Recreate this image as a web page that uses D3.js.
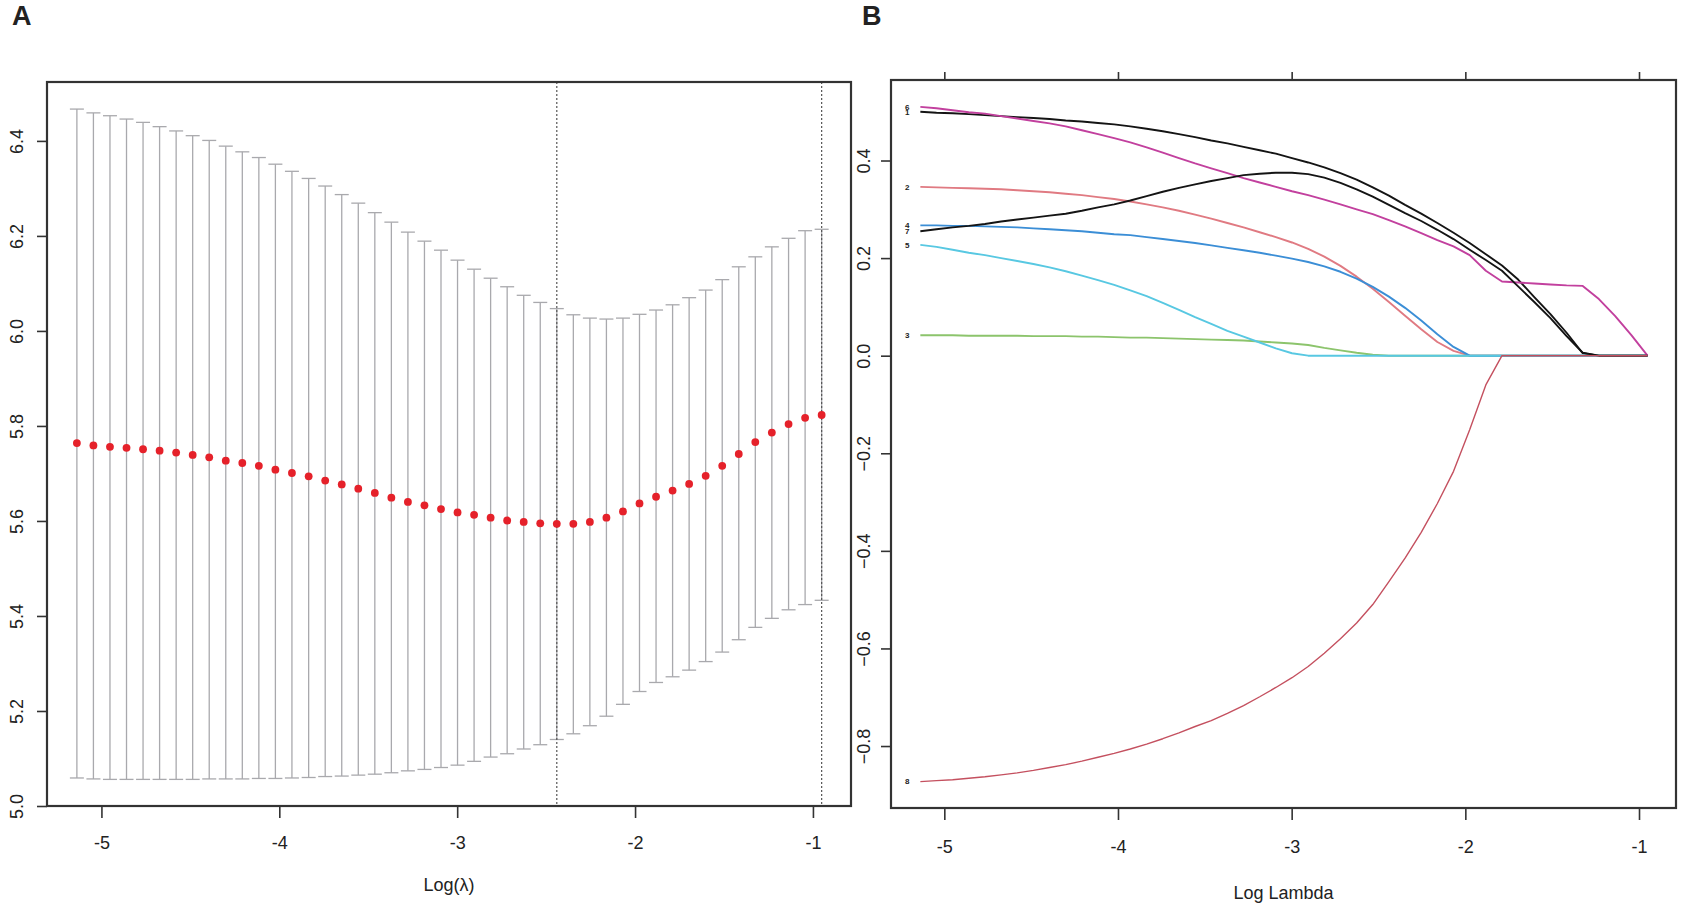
<!DOCTYPE html>
<html>
<head>
<meta charset="utf-8">
<script src="https://cdn.jsdelivr.net/npm/d3@7"></script>
<style>
    body { margin: 0; background: #fff; }
    svg text { font-family: "Liberation Sans", Arial, sans-serif; fill: #222; }
</style>
</head>
<body>
<svg id="chart" width="1689" height="907"></svg>
<script>
"use strict";

// log(lambda) sequence shared by both panels
var logLambda = [-5.138, -5.045, -4.952, -4.859, -4.766, -4.673, -4.580, -4.487, -4.394, -4.301,
    -4.208, -4.115, -4.022, -3.929, -3.835, -3.742, -3.649, -3.556, -3.463, -3.370,
    -3.277, -3.184, -3.091, -2.998, -2.905, -2.812, -2.719, -2.626, -2.533, -2.440,
    -2.347, -2.254, -2.161, -2.068, -1.975, -1.882, -1.789, -1.696, -1.603, -1.510,
    -1.417, -1.324, -1.231, -1.137, -1.044, -0.951];

// panel A: cross-validation curve
var cvMean = [5.764, 5.759, 5.756, 5.754, 5.751, 5.748, 5.744, 5.739, 5.734, 5.727,
    5.722, 5.716, 5.708, 5.701, 5.694, 5.685, 5.677, 5.668, 5.659, 5.649,
    5.640, 5.633, 5.625, 5.618, 5.613, 5.607, 5.601, 5.598, 5.595, 5.594,
    5.594, 5.598, 5.607, 5.620, 5.637, 5.651, 5.664, 5.678, 5.695, 5.716,
    5.741, 5.766, 5.786, 5.804, 5.817, 5.823];
var cvUpper = [6.467, 6.459, 6.453, 6.446, 6.439, 6.430, 6.421, 6.411, 6.401, 6.389,
    6.377, 6.365, 6.351, 6.336, 6.321, 6.305, 6.287, 6.269, 6.249, 6.229,
    6.208, 6.189, 6.170, 6.149, 6.130, 6.111, 6.093, 6.075, 6.060, 6.047,
    6.034, 6.027, 6.025, 6.027, 6.035, 6.044, 6.055, 6.070, 6.086, 6.108,
    6.135, 6.156, 6.177, 6.195, 6.211, 6.214];
var cvLower = [5.059, 5.057, 5.056, 5.056, 5.056, 5.056, 5.056, 5.056, 5.057, 5.057,
    5.057, 5.058, 5.058, 5.059, 5.060, 5.062, 5.063, 5.065, 5.067, 5.070,
    5.074, 5.077, 5.081, 5.086, 5.094, 5.103, 5.110, 5.120, 5.129, 5.140,
    5.152, 5.169, 5.189, 5.214, 5.241, 5.260, 5.272, 5.286, 5.304, 5.324,
    5.350, 5.376, 5.395, 5.413, 5.424, 5.433];
var lambdaMarks = [-2.440, -0.951];

// panel B: coefficient paths
var coefNames = ["1", "2", "3", "4", "5", "6", "7", "8"];
var coef1 = [0.500, 0.498, 0.497, 0.495, 0.493, 0.491, 0.489, 0.487, 0.485, 0.482,
    0.480, 0.477, 0.474, 0.470, 0.465, 0.460, 0.454, 0.448, 0.441, 0.435,
    0.428, 0.421, 0.414, 0.405, 0.396, 0.386, 0.374, 0.361, 0.345, 0.328,
    0.309, 0.291, 0.272, 0.252, 0.231, 0.208, 0.185, 0.156, 0.120, 0.085,
    0.047, 0.005, 0, 0, 0, 0];
var coef2 = [0.346, 0.345, 0.344, 0.343, 0.342, 0.341, 0.339, 0.337, 0.335, 0.332,
    0.329, 0.325, 0.321, 0.316, 0.310, 0.304, 0.297, 0.289, 0.281, 0.272,
    0.263, 0.253, 0.243, 0.232, 0.219, 0.203, 0.184, 0.162, 0.137, 0.110,
    0.082, 0.054, 0.028, 0.010, 0, 0, 0, 0, 0, 0,
    0, 0, 0, 0, 0, 0];
var coef3 = [0.042, 0.042, 0.042, 0.041, 0.041, 0.041, 0.041, 0.040, 0.040, 0.040,
    0.039, 0.039, 0.038, 0.037, 0.037, 0.036, 0.035, 0.034, 0.033, 0.032,
    0.031, 0.029, 0.027, 0.025, 0.022, 0.016, 0.011, 0.006, 0.002, 0,
    0, 0, 0, 0, 0, 0, 0, 0, 0, 0,
    0, 0, 0, 0, 0, 0];
var coef4 = [0.267, 0.267, 0.266, 0.266, 0.265, 0.264, 0.263, 0.261, 0.259, 0.257,
    0.255, 0.252, 0.249, 0.247, 0.243, 0.239, 0.235, 0.231, 0.226, 0.221,
    0.216, 0.211, 0.205, 0.199, 0.192, 0.183, 0.172, 0.158, 0.141, 0.121,
    0.098, 0.072, 0.044, 0.018, 0, 0, 0, 0, 0, 0,
    0, 0, 0, 0, 0, 0];
var coef5 = [0.227, 0.223, 0.217, 0.211, 0.206, 0.200, 0.194, 0.188, 0.181, 0.173,
    0.164, 0.155, 0.145, 0.134, 0.122, 0.108, 0.094, 0.079, 0.065, 0.051,
    0.039, 0.027, 0.015, 0.005, 0, 0, 0, 0, 0, 0,
    0, 0, 0, 0, 0, 0, 0, 0, 0, 0,
    0, 0, 0, 0, 0, 0];
var coef6 = [0.510, 0.507, 0.503, 0.499, 0.496, 0.491, 0.486, 0.481, 0.476, 0.470,
    0.462, 0.454, 0.446, 0.437, 0.427, 0.416, 0.405, 0.394, 0.384, 0.374,
    0.364, 0.355, 0.346, 0.337, 0.329, 0.320, 0.310, 0.300, 0.290, 0.278,
    0.265, 0.251, 0.237, 0.224, 0.206, 0.174, 0.152, 0.150, 0.148, 0.146,
    0.144, 0.143, 0.116, 0.081, 0.042, 0];
var coef7 = [0.255, 0.259, 0.263, 0.266, 0.270, 0.275, 0.279, 0.283, 0.287, 0.291,
    0.297, 0.304, 0.310, 0.318, 0.327, 0.336, 0.344, 0.351, 0.358, 0.364,
    0.370, 0.373, 0.375, 0.375, 0.372, 0.365, 0.354, 0.341, 0.326, 0.309,
    0.292, 0.276, 0.258, 0.239, 0.217, 0.196, 0.174, 0.142, 0.110, 0.077,
    0.040, 0.006, 0, 0, 0, 0];
var coef8 = [-0.873, -0.871, -0.869, -0.866, -0.863, -0.859, -0.855, -0.850, -0.844, -0.838,
    -0.831, -0.823, -0.815, -0.806, -0.796, -0.785, -0.773, -0.760, -0.748, -0.733,
    -0.717, -0.699, -0.680, -0.660, -0.637, -0.610, -0.580, -0.548, -0.510, -0.463,
    -0.415, -0.362, -0.303, -0.237, -0.152, -0.060, 0, 0, 0, 0,
    0, 0, 0, 0, 0, 0];
var coefColors = ["#141414", "#e07a82", "#8cc46c", "#3b8ed6", "#58c8e2", "#c2409e", "#141414", "#c4505f"];

// tick labels
var xTicks = [-5, -4, -3, -2, -1];
var yTicksA = [5.0, 5.2, 5.4, 5.6, 5.8, 6.0, 6.2, 6.4];
var yTicksB = [-0.8, -0.6, -0.4, -0.2, 0.0, 0.2, 0.4];

var svg = d3.select("#chart");

// panel boxes
var boxA = { left: 47, right: 851, top: 82, bottom: 806 };
var boxB = { left: 891, right: 1676, top: 80, bottom: 808 };

var xA = d3.scaleLinear().domain([-5.306, -0.786]).range([boxA.left, boxA.right]);
var yA = d3.scaleLinear().domain([5.0, 6.524]).range([boxA.bottom, boxA.top]);

var xB = d3.scaleLinear().domain([-5.307, -0.787]).range([boxB.left, boxB.right]);
var yB = d3.scaleLinear().domain([-0.927, 0.565]).range([boxB.bottom, boxB.top]);

// style helper for R-like axes
function styleAxis(g, size) {
    g.select(".domain").remove();
    g.selectAll(".tick line").attr("stroke", "#333").attr("stroke-width", 1.6);
    g.selectAll(".tick text").attr("font-size", size).attr("fill", "#222");
}

// ---------- panel A ----------
var gA = svg.append("g");
var idx = d3.range(logLambda.length);

// error bars
gA.selectAll(".bar").data(idx).enter().append("line")
    .attr("x1", function(i) { return xA(logLambda[i]); })
    .attr("x2", function(i) { return xA(logLambda[i]); })
    .attr("y1", function(i) { return yA(cvLower[i]); })
    .attr("y2", function(i) { return yA(cvUpper[i]); })
    .attr("stroke", "#a9a9ad").attr("stroke-width", 1.3);

[cvUpper, cvLower].forEach(function(arr) {
    gA.append("g").selectAll("line").data(idx).enter().append("line")
        .attr("x1", function(i) { return xA(logLambda[i]) - 7; })
        .attr("x2", function(i) { return xA(logLambda[i]) + 7; })
        .attr("y1", function(i) { return yA(arr[i]); })
        .attr("y2", function(i) { return yA(arr[i]); })
        .attr("stroke", "#a9a9ad").attr("stroke-width", 1.3);
});

// lambda.min and lambda.1se
gA.selectAll(".mark").data(lambdaMarks).enter().append("line")
    .attr("x1", function(d) { return xA(d); })
    .attr("x2", function(d) { return xA(d); })
    .attr("y1", boxA.top).attr("y2", boxA.bottom)
    .attr("stroke", "#555").attr("stroke-width", 1.2)
    .attr("stroke-dasharray", "2,2");

// mean points
gA.selectAll(".dot").data(idx).enter().append("circle")
    .attr("cx", function(i) { return xA(logLambda[i]); })
    .attr("cy", function(i) { return yA(cvMean[i]); })
    .attr("r", 3.9)
    .attr("fill", "#e5212a");

gA.append("rect")
    .attr("x", boxA.left).attr("y", boxA.top)
    .attr("width", boxA.right - boxA.left).attr("height", boxA.bottom - boxA.top)
    .attr("fill", "none").attr("stroke", "#333").attr("stroke-width", 2.2);

gA.append("g")
    .attr("transform", "translate(0," + boxA.bottom + ")")
    .call(d3.axisBottom(xA).tickValues(xTicks).tickSize(12).tickPadding(18)
        .tickFormat(function(d) { return String(d); }))
    .call(styleAxis, 18);

gA.append("g")
    .attr("transform", "translate(" + boxA.left + ",0)")
    .call(d3.axisLeft(yA).tickValues(yTicksA).tickSize(10).tickFormat(d3.format(".1f")))
    .call(styleAxis, 18)
    .call(function(g) {
        g.selectAll(".tick text")
            .attr("x", null).attr("dy", null)
            .attr("text-anchor", "middle")
            .attr("transform", "translate(-24,0) rotate(-90)");
    });

gA.append("text")
    .attr("x", (boxA.left + boxA.right) / 2).attr("y", 891)
    .attr("text-anchor", "middle").attr("font-size", 18)
    .text("Log(λ)");

svg.append("text").attr("x", 12).attr("y", 25)
    .attr("font-size", 27).attr("font-weight", "bold").attr("fill", "#000")
    .text("A");

// ---------- panel B ----------
var gB = svg.append("g");
var coefs = [coef1, coef2, coef3, coef4, coef5, coef6, coef7, coef8];

var line = d3.line()
    .x(function(d) { return xB(d[0]); })
    .y(function(d) { return yB(d[1]); });

gB.selectAll(".path").data(coefs).enter().append("path")
    .attr("d", function(c) { return line(d3.zip(logLambda, c)); })
    .attr("fill", "none")
    .attr("stroke", function(c, j) { return coefColors[j]; })
    .attr("stroke-width", function(c, j) { return j === 7 ? 1.4 : 1.9; })
    .attr("stroke-linejoin", "round");

// variable labels at the left end of each path
gB.selectAll(".lab").data(coefs).enter().append("text")
    .attr("x", xB(logLambda[0]) - 13)
    .attr("y", function(c) { return yB(c[0]); })
    .attr("dy", "0.35em")
    .attr("text-anchor", "middle")
    .attr("font-size", 8).attr("font-weight", "bold")
    .text(function(c, j) { return coefNames[j]; });

gB.append("rect")
    .attr("x", boxB.left).attr("y", boxB.top)
    .attr("width", boxB.right - boxB.left).attr("height", boxB.bottom - boxB.top)
    .attr("fill", "none").attr("stroke", "#333").attr("stroke-width", 2.2);

gB.append("g")
    .attr("transform", "translate(0," + boxB.bottom + ")")
    .call(d3.axisBottom(xB).tickValues(xTicks).tickSize(12).tickPadding(20)
        .tickFormat(function(d) { return String(d); }))
    .call(styleAxis, 18);

gB.append("g")
    .attr("transform", "translate(0," + boxB.top + ")")
    .call(d3.axisTop(xB).tickValues(xTicks).tickSize(8).tickFormat(""))
    .call(styleAxis, 18);

gB.append("g")
    .attr("transform", "translate(" + boxB.left + ",0)")
    .call(d3.axisLeft(yB).tickValues(yTicksB).tickSize(10).tickFormat(d3.format(".1f")))
    .call(styleAxis, 18)
    .call(function(g) {
        g.selectAll(".tick text")
            .attr("x", null).attr("dy", null)
            .attr("text-anchor", "middle")
            .attr("transform", "translate(-21,0) rotate(-90)");
    });

gB.append("text")
    .attr("x", (boxB.left + boxB.right) / 2).attr("y", 899)
    .attr("text-anchor", "middle").attr("font-size", 18)
    .text("Log Lambda");

svg.append("text").attr("x", 862).attr("y", 25)
    .attr("font-size", 27).attr("font-weight", "bold").attr("fill", "#000")
    .text("B");
</script>
</body>
</html>
